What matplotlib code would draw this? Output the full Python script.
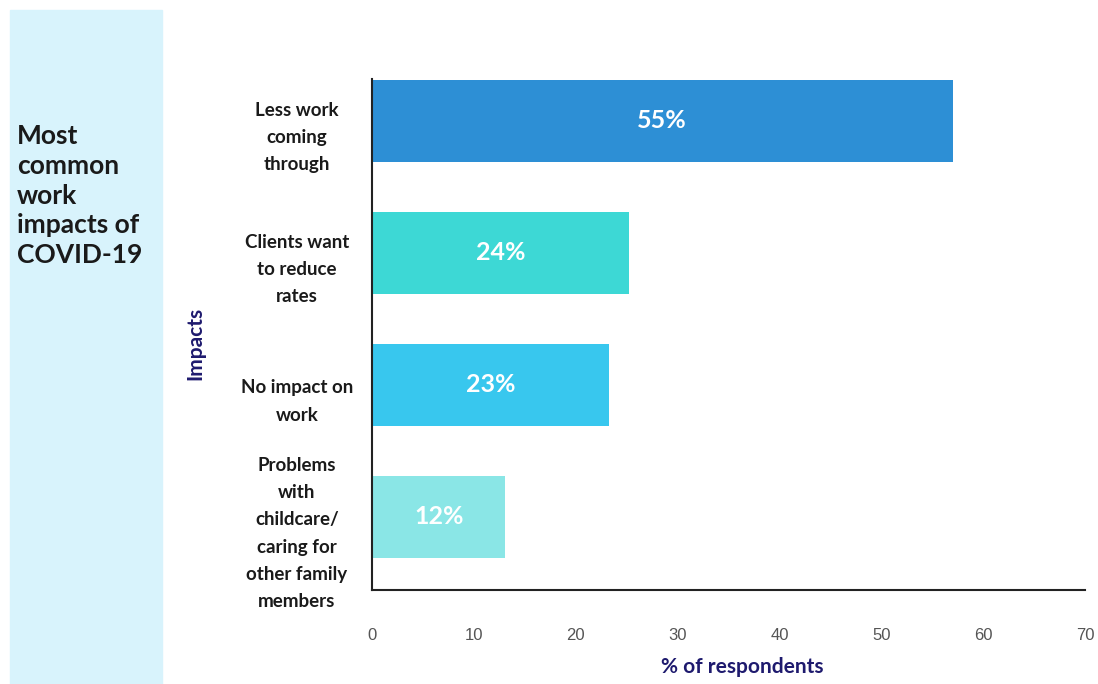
import matplotlib.pyplot as plt
from matplotlib.patches import Rectangle
from matplotlib import transforms

plt.rcParams['font.family'] = ['Lato', 'DejaVu Sans']

# data (top to bottom)
impacts = ['Less work\ncoming\nthrough',
           'Clients want\nto reduce\nrates',
           'No impact on\nwork',
           'Problems\nwith\nchildcare/\ncaring for\nother family\nmembers']
bar_values = [57, 25.2, 23.3, 13.1]
bar_labels = ['55%', '24%', '23%', '12%']
bar_colors = ['#2d8fd5', '#3dd8d5', '#38c7ee', '#8ae6e6']
xticks = [0, 10, 20, 30, 40, 50, 60, 70]

navy = '#1e1a6e'
dark = '#1a1a1a'

fig = plt.figure(figsize=(10.98, 6.84), dpi=100)
fig.patch.set_facecolor('white')

# light blue side panel
fig.patches.append(Rectangle((10 / 1098, 0), 152 / 1098, 1 - 10 / 684,
                             transform=fig.transFigure, color='#d8f3fc', zorder=0))
fig.text(17 / 1098, 1 - 124 / 684, 'Most\ncommon\nwork\nimpacts of\nCOVID-19',
         ha='left', va='top', fontsize=19, color=dark, fontweight='bold',
         linespacing=1.29)

ax = fig.add_axes([372 / 1098, 1 - 590 / 684, 713 / 1098, 511 / 684])

pos = list(range(len(impacts)))
ax.barh(pos, bar_values, height=0.62, color=bar_colors, zorder=2)
for p, v, lab in zip(pos, bar_values, bar_labels):
    ax.text(v / 2, p, lab, ha='center', va='center', color='white',
            fontsize=18, fontweight='bold', zorder=3)

ax.set_xlim(0, 70)
ax.set_ylim(3.553, -0.318)
ax.set_xticks(xticks)
ax.set_xticklabels([str(t) for t in xticks], family='Liberation Sans',
                   fontsize=12, color='#555555')
ax.tick_params(axis='x', length=0, pad=27)
ax.set_yticks(pos)
ax.set_yticklabels(impacts, fontsize=13.5, color=dark, fontweight='bold',
                   ha='center', multialignment='center', linespacing=1.72)
ax.tick_params(axis='y', length=0, pad=54)
shift = transforms.ScaledTranslation(0, -0.10, fig.dpi_scale_trans)
for t in ax.get_yticklabels():
    t.set_transform(t.get_transform() + shift)

for s in ['top', 'right']:
    ax.spines[s].set_visible(False)
for s in ['left', 'bottom']:
    ax.spines[s].set_color('#222222')
    ax.spines[s].set_linewidth(1.5)

fig.text(195 / 1098, 1 - 343 / 684, 'Impacts', rotation=90, ha='center',
         va='center', fontsize=15, color=navy, fontweight='bold')
fig.text(742 / 1098, 1 - 667 / 684, '% of respondents', ha='center',
         va='center', fontsize=15, color=navy, fontweight='bold')

fig.savefig('out.png', dpi=100)
